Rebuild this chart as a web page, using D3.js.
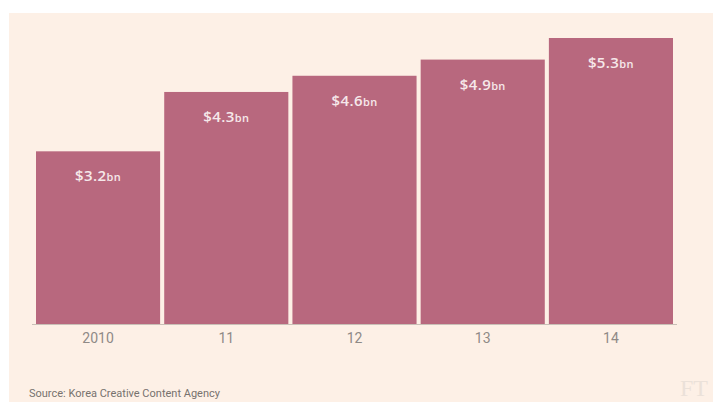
<!DOCTYPE html>
<html>
<head>
<meta charset="utf-8">
<script src="https://cdn.jsdelivr.net/npm/d3@7"></script>
<style>
  body { margin: 0; background: #ffffff; }
  svg { display: block; }
</style>
</head>
<body>
<div id="chart"></div>
<script>
// data
var years = ["2010", "11", "12", "13", "14"];
var revenue = [3.2, 4.3, 4.6, 4.9, 5.3];   // $bn
var source = "Source: Korea Creative Content Agency";

var W = 713, H = 402;

var svg = d3.select("#chart")
  .append("svg")
    .attr("width", W)
    .attr("height", H);

// peach panel
svg.append("rect")
  .attr("x", 9).attr("y", 13)
  .attr("width", W - 9).attr("height", H - 13)
  .attr("fill", "#fdf0e6");

// scales
var x = d3.scaleBand()
    .domain(years)
    .range([36, 673])
    .paddingInner(0.032);

var y = d3.scaleLinear()
    .domain([0, 5.3])
    .range([324, 38]);

// bars
svg.selectAll("rect.bar")
    .data(revenue)
    .enter()
    .append("rect")
      .attr("class", "bar")
      .attr("x", function(d, i) { return x(years[i]); })
      .attr("y", function(d) { return y(d); })
      .attr("width", x.bandwidth())
      .attr("height", function(d) { return y(0) - y(d); })
      .style("fill", "#b8687e");

// value labels
var lab = svg.selectAll("text.val")
    .data(revenue)
    .enter()
    .append("text")
      .attr("class", "val")
      .attr("x", function(d, i) { return x(years[i]) + x.bandwidth() / 2; })
      .attr("y", function(d) { return y(d) + 30; })
      .attr("text-anchor", "middle")
      .style("font-family", "'Open Sans', sans-serif")
      .style("font-weight", "600")
      .style("letter-spacing", "0.4px")
      .style("fill", "#f6e8ea");
lab.append("tspan")
    .style("font-size", "15px")
    .text(function(d) { return "$" + d.toFixed(1); });
lab.append("tspan")
    .style("font-size", "11px")
    .text("bn");

// x axis
var xAxis = svg.append("g")
    .attr("transform", "translate(0,324)")
    .call(d3.axisBottom(x).tickSize(0).tickPadding(9));
xAxis.select(".domain").remove();
svg.append("line")
    .attr("x1", 32).attr("x2", 677)
    .attr("y1", 324.5).attr("y2", 324.5)
    .attr("stroke", "#c9c0b7")
    .attr("stroke-width", 1.2);
xAxis.selectAll("text")
    .style("font-family", "Roboto, sans-serif")
    .style("font-size", "14px")
    .style("fill", "#8f8a86");

// source
svg.append("text")
   .attr("x", 29)
   .attr("y", 397)
   .style("font-family", "'Liberation Sans Narrow', Roboto, sans-serif")
   .style("font-size", "11px")
   .style("fill", "#77726e")
   .text(source);

// FT logo
svg.append("text")
   .attr("x", 708)
   .attr("y", 396)
   .attr("text-anchor", "end")
   .style("font-family", "'Liberation Serif', serif")
   .style("font-size", "24px")
   .style("fill", "#ebe1d9")
   .text("FT");
</script>
</body>
</html>
